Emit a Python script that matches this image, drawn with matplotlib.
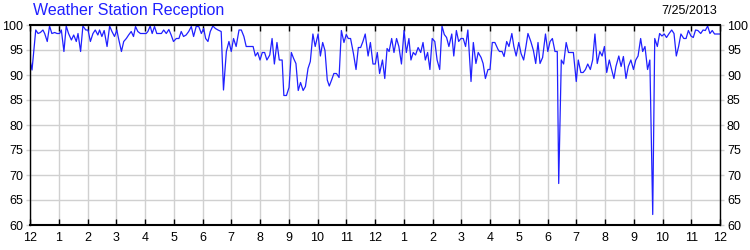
import matplotlib
matplotlib.use("Agg")
import matplotlib.pyplot as plt

# data (hour of day, reception %)
hours = [
    0.00, 0.07, 0.20, 0.28, 0.36, 0.45, 0.51, 0.60, 0.68, 0.76, 0.86, 0.94,
    1.03, 1.09, 1.18, 1.26, 1.34, 1.44, 1.52, 1.61, 1.67, 1.76, 1.84, 1.94,
    2.02, 2.10, 2.19, 2.27, 2.36, 2.42, 2.50, 2.58, 2.68, 2.77, 2.85, 2.94,
    3.02, 3.08, 3.18, 3.26, 3.35, 3.43, 3.52, 3.60, 3.67, 3.75, 3.84, 4.04,
    4.10, 4.18, 4.25, 4.33, 4.41, 4.57, 4.65, 4.74, 4.83, 4.91, 4.99, 5.09,
    5.18, 5.26, 5.34, 5.43, 5.52, 5.61, 5.69, 5.78, 5.87, 5.96, 6.04, 6.11,
    6.19, 6.27, 6.36, 6.45, 6.54, 6.65, 6.73, 6.83, 6.92, 7.00, 7.08, 7.17,
    7.27, 7.35, 7.44, 7.52, 7.64, 7.76, 7.84, 7.92, 8.00, 8.08, 8.16, 8.24,
    8.34, 8.42, 8.50, 8.59, 8.67, 8.77, 8.83, 8.92, 9.01, 9.09, 9.17, 9.25,
    9.33, 9.41, 9.50, 9.58, 9.67, 9.75, 9.84, 9.92, 10.02, 10.10, 10.18, 10.26,
    10.34, 10.41, 10.49, 10.57, 10.66, 10.75, 10.83, 10.92, 11.00, 11.07, 11.15, 11.25,
    11.34, 11.42, 11.50, 11.58, 11.66, 11.76, 11.84, 11.93, 12.01, 12.08, 12.16, 12.26,
    12.34, 12.42, 12.49, 12.58, 12.66, 12.75, 12.83, 12.92, 13.01, 13.09, 13.18, 13.25,
    13.33, 13.41, 13.50, 13.59, 13.67, 13.75, 13.83, 13.91, 13.99, 14.08, 14.16, 14.25,
    14.33, 14.41, 14.49, 14.57, 14.67, 14.74, 14.83, 14.91, 14.99, 15.07, 15.15, 15.23,
    15.34, 15.42, 15.51, 15.59, 15.69, 15.76, 15.84, 15.93, 16.00, 16.08, 16.17, 16.28,
    16.33, 16.42, 16.49, 16.58, 16.66, 16.76, 16.83, 16.91, 17.00, 17.08, 17.17, 17.25,
    17.32, 17.42, 17.51, 17.59, 17.67, 17.74, 17.83, 17.93, 18.01, 18.09, 18.17, 18.26,
    18.34, 18.39, 18.48, 18.56, 18.65, 18.73, 18.82, 18.90, 19.00, 19.07, 19.16, 19.24,
    19.32, 19.40, 19.49, 19.57, 19.65, 19.73, 19.82, 19.90, 19.98, 20.06, 20.15, 20.23,
    20.31, 20.38, 20.48, 20.56, 20.64, 20.73, 20.81, 20.90, 20.99, 21.07, 21.15, 21.24,
    21.31, 21.39, 21.48, 21.56, 21.66, 21.73, 21.82, 21.90, 21.98, 22.06, 22.14, 22.23,
    22.32, 22.40, 22.48, 22.56, 22.64, 22.74, 22.82, 22.90, 22.99, 23.07, 23.15, 23.23,
    23.33, 23.41, 23.49, 23.57, 23.65, 23.73, 23.81, 23.98,
]
reception = [
    93.0, 91.0, 99.0, 98.3, 98.5, 99.0, 98.3, 96.7, 99.8, 98.3, 98.5, 98.3,
    98.3, 99.0, 94.7, 99.8, 98.3, 97.0, 98.0, 96.7, 98.3, 94.7, 99.8, 99.0,
    99.0, 96.7, 98.3, 99.0, 98.0, 99.0, 97.7, 98.9, 95.7, 99.8, 98.7, 97.7,
    99.0, 97.3, 94.7, 96.7, 97.3, 98.0, 98.7, 97.7, 99.7, 98.7, 98.3, 98.3,
    98.7, 99.8, 98.3, 99.7, 98.3, 98.3, 99.0, 98.3, 99.1, 98.0, 96.7, 97.3,
    97.3, 98.7, 97.7, 98.0, 98.7, 99.7, 97.7, 99.7, 99.7, 98.3, 99.3, 97.3,
    96.7, 98.7, 99.8, 99.3, 99.0, 98.7, 87.0, 94.7, 96.7, 94.7, 97.3, 95.7,
    99.0, 99.0, 97.7, 95.7, 95.7, 95.7, 93.8, 94.5, 93.0, 94.5, 94.5, 93.0,
    94.0, 97.3, 92.2, 96.5, 93.0, 93.0, 85.9, 85.9, 87.5, 94.5, 93.3, 92.3,
    86.9, 88.5, 86.9, 87.7, 91.3, 92.7, 98.2, 95.7, 98.2, 93.8, 96.5, 94.9,
    89.0, 87.8, 89.0, 90.3, 90.3, 89.5, 98.9, 96.5, 98.1, 97.3, 97.3, 94.3,
    91.1, 95.5, 95.5, 96.7, 98.2, 93.8, 96.5, 92.2, 92.2, 94.5, 90.3, 93.0,
    89.3, 95.3, 94.7, 97.3, 94.5, 97.3, 95.7, 92.2, 98.9, 94.5, 97.3, 93.0,
    94.5, 94.0, 95.5, 94.5, 96.5, 93.0, 94.5, 91.1, 97.3, 96.7, 93.0, 91.1,
    99.8, 98.1, 97.5, 95.7, 98.2, 93.8, 98.9, 96.7, 97.3, 97.3, 95.7, 99.0,
    88.7, 96.5, 92.3, 94.5, 93.5, 92.3, 89.3, 91.1, 91.1, 96.5, 96.5, 95.1,
    94.7, 94.7, 93.7, 96.7, 95.7, 98.3, 95.7, 93.8, 96.5, 94.3, 93.0, 95.7,
    98.3, 96.7, 94.9, 92.3, 96.5, 92.3, 93.5, 98.2, 94.7, 96.7, 97.3, 94.7,
    94.7, 68.3, 93.0, 92.2, 96.5, 94.5, 94.5, 94.5, 88.7, 93.0, 90.5, 90.5,
    91.1, 92.2, 91.1, 93.0, 98.2, 92.3, 94.7, 93.8, 95.7, 90.5, 93.0, 91.1,
    89.3, 91.7, 93.8, 91.7, 93.7, 89.3, 91.7, 93.0, 91.1, 93.0, 93.8, 97.3,
    94.7, 95.7, 91.1, 93.0, 62.1, 97.3, 95.7, 98.3, 97.8, 98.2, 97.5, 98.3,
    99.0, 98.3, 93.8, 95.7, 98.2, 97.3, 97.3, 98.9, 97.8, 97.5, 99.0, 98.9,
    98.3, 99.0, 98.9, 99.8, 98.3, 98.9, 98.2, 98.2,
]

hour_ticks = list(range(0, 25))
hour_labels = ["12"] + [str(h) for h in range(1, 12)] + ["12"] + [str(h) for h in range(1, 12)] + ["12"]
pct_ticks = list(range(60, 101, 5))

plt.rcParams['font.family'] = ['Liberation Sans', 'DejaVu Sans']

fig = plt.figure(figsize=(7.5, 2.5), dpi=100)
ax = fig.add_axes([30 / 750, 25 / 250, 690 / 750, 200 / 250])

ax.plot(hours, reception, color='#2020ff', linewidth=0.9)

ax.set_xlim(0, 24)
ax.set_ylim(60, 100)
ax.set_xticks(hour_ticks)
ax.set_xticklabels(hour_labels, fontsize=9)
ax.set_yticks(pct_ticks)
ax.set_yticklabels([str(v) for v in pct_ticks], fontsize=9)

ax.grid(True, color='#d0d0d0', linewidth=1)
ax.set_axisbelow(True)

ax.tick_params(axis='x', direction='in', length=4, width=1, color='black',
               top=True, bottom=True, pad=5)
ax.tick_params(axis='y', direction='out', length=3, width=1, color='#d0d0d0',
               left=True, right=True, labelleft=True, labelright=True, pad=2)

for side in ax.spines.values():
    side.set_color('black')
    side.set_linewidth(1)
ax.spines['top'].set_linewidth(1.5)
ax.spines['bottom'].set_linewidth(1.5)

fig.text(33 / 750, 1 - 11 / 250, "Weather Station Reception", color='#2020ff',
         fontsize=11.5, va='center', ha='left')
fig.text(717 / 750, 1 - 11 / 250, "7/25/2013", color='black',
         fontsize=9, va='center', ha='right')

fig.savefig('out.png', dpi=100)
